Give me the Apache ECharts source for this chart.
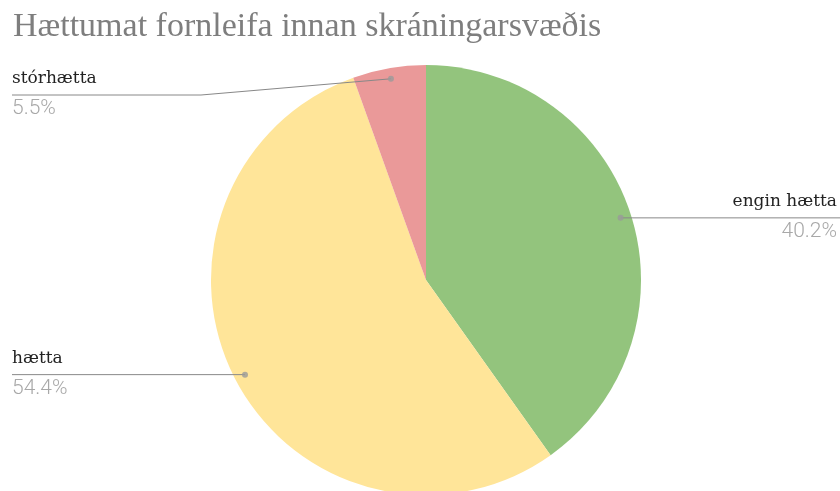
<!DOCTYPE html>
<html>
<head>
<meta charset="utf-8">
<script src="https://cdn.jsdelivr.net/npm/echarts@6/dist/echarts.min.js"></script>
<style>
  html, body { margin: 0; padding: 0; background: #fff; }
  #chart { width: 840px; height: 491px; }
</style>
</head>
<body>
<div id="chart"></div>
<script>
// Risk assessment of archaeological sites within the survey area
const titleText = 'Hættumat fornleifa innan skráningarsvæðis';
const categories = ['engin hætta', 'hætta', 'stórhætta'];
const shares = [40.2, 54.4, 5.5];
const sliceColors = ['#93c47d', '#ffe599', '#ea9999'];

const chart = echarts.init(document.getElementById('chart'), null, { renderer: 'canvas' });

const CX = 426, CY = 280, R = 215;
const DOT_R = 0.95;      // labels are anchored slightly inside the rim
const LABEL_TOP = 95;    // keep label lines below the title
const SIDE_PAD = 12;

const total = shares.reduce((a, b) => a + b, 0);
const cumulative = [];
shares.reduce((acc, v, i) => { cumulative[i] = acc; return acc + v; }, 0);

// mid-slice position as a percentage of the full turn
const midPct = shares.map((v, i) => (cumulative[i] + v / 2) / total * 100);

function anchorOf(i) {
  const a = midPct[i] / 100 * Math.PI * 2;
  return [CX + DOT_R * R * Math.sin(a), CY - DOT_R * R * Math.cos(a)];
}

const pieData = categories.map((name, i) => ({
  name: name,
  value: shares[i],
  itemStyle: { color: sliceColors[i] }
}));

// same slices, invisible, only carrying the labels so their lines sit above the fill
const labelData = categories.map((name, i) => ({
  name: name,
  value: shares[i],
  itemStyle: { color: 'rgba(0,0,0,0)' }
}));

chart.setOption({
  animation: false,
  backgroundColor: '#ffffff',
  title: {
    text: titleText,
    left: 8,
    top: 5,
    textStyle: {
      fontFamily: 'Liberation Serif',
      fontWeight: 'normal',
      fontSize: 34,
      color: '#7e7e7e'
    }
  },
  polar: { center: [CX, CY], radius: R },
  angleAxis: {
    type: 'value', min: 0, max: 100, startAngle: 90, clockwise: true,
    show: false, axisLine: { show: false }, splitLine: { show: false }
  },
  radiusAxis: {
    type: 'value', min: 0, max: 1, show: false,
    axisLine: { show: false }, splitLine: { show: false }
  },
  series: [
    {
      type: 'pie',
      z: 1,
      center: [CX, CY],
      radius: R,
      startAngle: 90,
      clockwise: true,
      data: pieData,
      itemStyle: { borderWidth: 0 },
      emphasis: { disabled: true },
      label: { show: false },
      labelLine: { show: false }
    },
    {
      type: 'pie',
      z: 3,
      silent: true,
      center: [CX, CY],
      radius: R,
      startAngle: 90,
      clockwise: true,
      avoidLabelOverlap: false,
      data: labelData,
      itemStyle: { borderWidth: 0 },
      emphasis: { disabled: true },
      label: {
        show: true,
        position: 'outside',
        formatter: p => '{n|' + p.name + '}\n{p|' + p.value + '%}',
        rich: {
          n: { fontFamily: 'DejaVu Serif', fontSize: 17, color: '#222222', lineHeight: 28 },
          p: { fontFamily: 'Roboto', fontWeight: 300, fontSize: 21, color: '#a8a8a8', lineHeight: 33 }
        }
      },
      labelLine: {
        show: true,
        length: 10,
        length2: 10,
        lineStyle: { color: '#888888', width: 1 }
      },
      labelLayout: function (params) {
        const i = params.dataIndex;
        const W = chart.getWidth();
        const dot = anchorOf(i);
        const a = midPct[i] / 100 * Math.PI * 2;
        const isLeft = Math.sin(a) < 0;
        const lineY = Math.max(dot[1], LABEL_TOP);
        const bendX = isLeft ? CX - R - 10 : CX + R + 10;
        const endX = isLeft ? SIDE_PAD : W;
        return {
          x: isLeft ? SIDE_PAD : W - 3,
          y: lineY,
          align: isLeft ? 'left' : 'right',
          verticalAlign: 'middle',
          labelLinePoints: [dot, [bendX, lineY], [endX, lineY]]
        };
      }
    },
    {
      type: 'scatter',
      coordinateSystem: 'polar',
      z: 5,
      symbol: 'circle',
      symbolSize: 6,
      silent: true,
      itemStyle: { color: '#9a9a9a' },
      data: midPct.map(m => [DOT_R, m])
    }
  ]
});
</script>
</body>
</html>
